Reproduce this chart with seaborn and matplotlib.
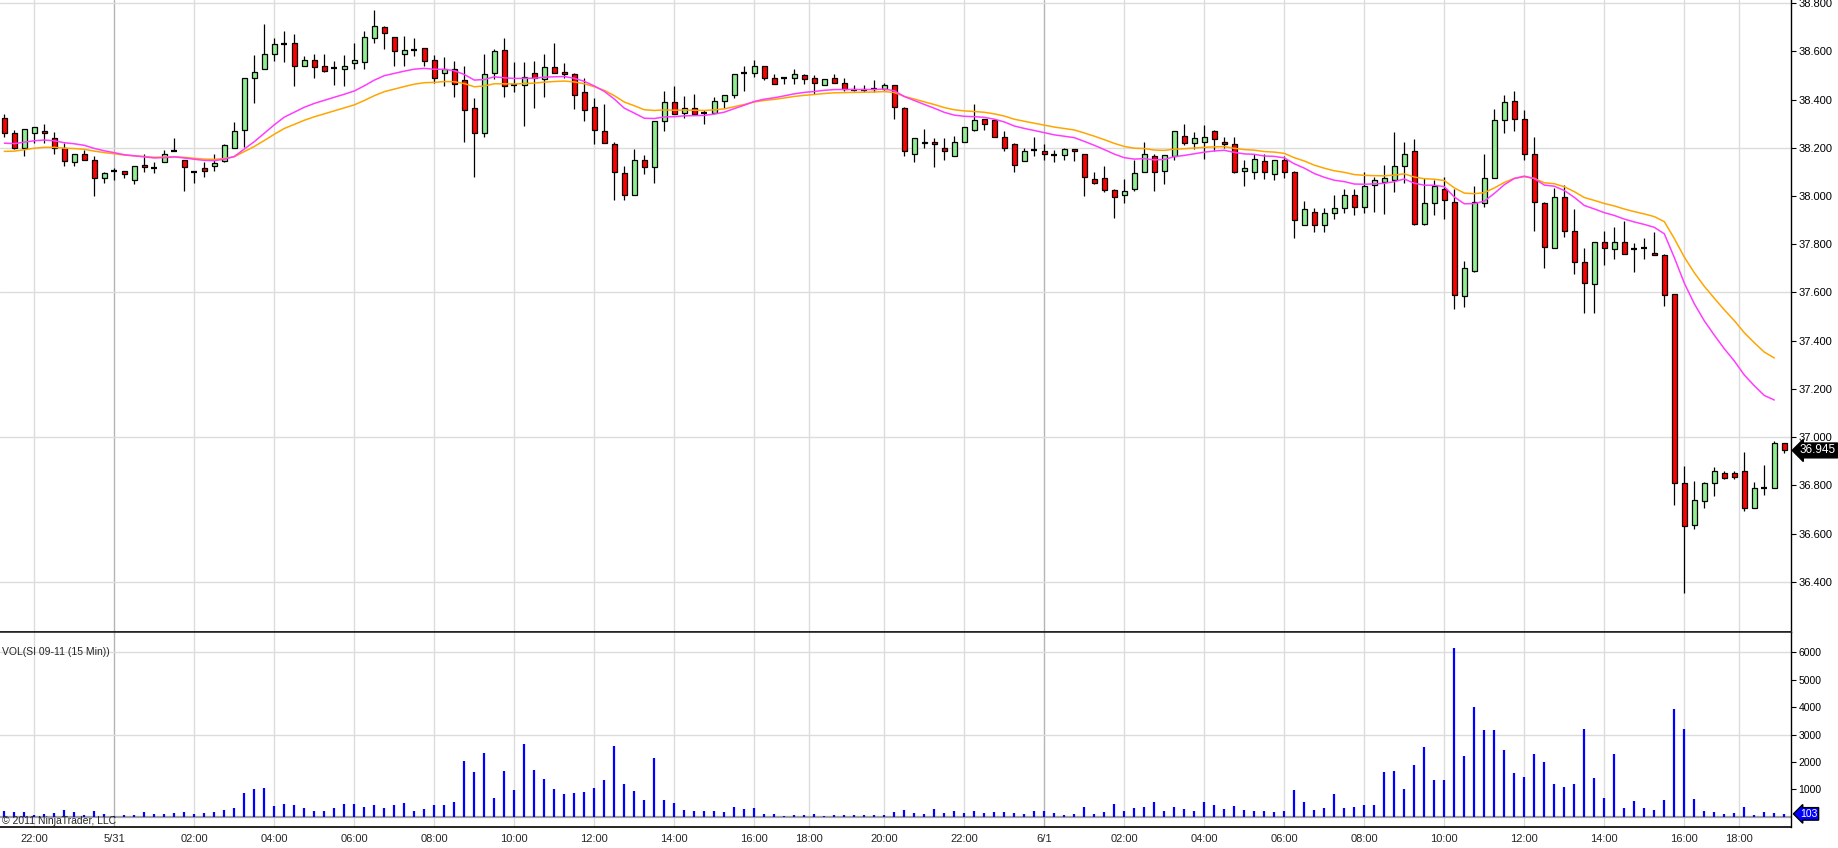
import numpy as np
import pandas as pd
import matplotlib
matplotlib.use("Agg")
import matplotlib.pyplot as plt
import matplotlib.transforms as mtransforms
import seaborn as sns

# SI 09-11, 15 min bars, 5/30 21:00 .. 6/1 18:45
opens = [38.325, 38.260, 38.200, 38.260, 38.270, 38.240, 38.200, 38.140, 38.175, 38.150,
         38.075, 38.105, 38.105, 38.065, 38.130, 38.115, 38.140, 38.185, 38.150, 38.100,
         38.115, 38.125, 38.145, 38.200, 38.275, 38.490, 38.525, 38.590, 38.630, 38.635,
         38.540, 38.565, 38.540, 38.530, 38.525, 38.550, 38.555, 38.655, 38.700, 38.660,
         38.590, 38.605, 38.615, 38.565, 38.510, 38.525, 38.480, 38.365, 38.260, 38.510,
         38.605, 38.460, 38.460, 38.510, 38.485, 38.535, 38.515, 38.505, 38.430, 38.370,
         38.270, 38.215, 38.095, 38.005, 38.150, 38.120, 38.310, 38.390, 38.345, 38.365,
         38.345, 38.345, 38.395, 38.420, 38.510, 38.510, 38.540, 38.490, 38.490, 38.490,
         38.500, 38.490, 38.460, 38.490, 38.470, 38.440, 38.440, 38.445, 38.445, 38.460,
         38.365, 38.175, 38.220, 38.225, 38.200, 38.165, 38.225, 38.275, 38.320, 38.315,
         38.245, 38.215, 38.145, 38.190, 38.185, 38.170, 38.170, 38.195, 38.175, 38.070,
         38.075, 38.025, 38.005, 38.030, 38.100, 38.165, 38.105, 38.165, 38.250, 38.220,
         38.225, 38.270, 38.225, 38.215, 38.105, 38.100, 38.145, 38.090, 38.150, 38.100,
         37.880, 37.935, 37.880, 37.930, 37.950, 38.005, 37.955, 38.045, 38.060, 38.065,
         38.125, 38.185, 37.885, 37.970, 38.030, 37.975, 37.585, 37.690, 37.970, 38.075,
         38.315, 38.395, 38.320, 38.175, 37.970, 37.785, 37.995, 37.855, 37.725, 37.635,
         37.810, 37.780, 37.810, 37.780, 37.785, 37.765, 37.755, 37.595, 36.810, 36.635,
         36.735, 36.810, 36.850, 36.850, 36.860, 36.705, 36.790, 36.790, 36.975]
highs = [38.340, 38.275, 38.280, 38.285, 38.300, 38.265, 38.220, 38.175, 38.190, 38.165,
         38.100, 38.115, 38.105, 38.125, 38.175, 38.140, 38.190, 38.240, 38.150, 38.100,
         38.140, 38.175, 38.215, 38.305, 38.490, 38.585, 38.715, 38.655, 38.685, 38.670,
         38.580, 38.590, 38.590, 38.560, 38.585, 38.635, 38.685, 38.770, 38.705, 38.660,
         38.665, 38.655, 38.615, 38.585, 38.575, 38.560, 38.540, 38.405, 38.590, 38.610,
         38.655, 38.555, 38.555, 38.560, 38.590, 38.635, 38.550, 38.510, 38.490, 38.405,
         38.380, 38.225, 38.125, 38.195, 38.170, 38.310, 38.435, 38.455, 38.415, 38.425,
         38.355, 38.410, 38.420, 38.505, 38.540, 38.565, 38.540, 38.505, 38.490, 38.525,
         38.505, 38.500, 38.485, 38.505, 38.490, 38.460, 38.460, 38.480, 38.470, 38.460,
         38.370, 38.240, 38.280, 38.240, 38.240, 38.250, 38.285, 38.380, 38.320, 38.320,
         38.270, 38.220, 38.200, 38.245, 38.215, 38.190, 38.200, 38.195, 38.175, 38.100,
         38.125, 38.030, 38.070, 38.150, 38.225, 38.175, 38.170, 38.270, 38.300, 38.265,
         38.295, 38.275, 38.245, 38.245, 38.150, 38.175, 38.175, 38.150, 38.165, 38.105,
         37.980, 37.950, 37.950, 38.005, 38.030, 38.030, 38.100, 38.080, 38.130, 38.265,
         38.225, 38.235, 38.075, 38.065, 38.080, 38.030, 37.730, 38.040, 38.175, 38.360,
         38.420, 38.435, 38.355, 38.245, 37.975, 38.035, 38.045, 37.945, 37.785, 37.810,
         37.855, 37.870, 37.895, 37.805, 37.825, 37.850, 37.760, 37.595, 36.880, 36.820,
         36.815, 36.875, 36.860, 36.860, 36.940, 36.815, 36.885, 36.985, 36.975]
lows = [38.245, 38.195, 38.165, 38.220, 38.220, 38.175, 38.125, 38.125, 38.150, 38.000,
        38.055, 38.065, 38.075, 38.050, 38.100, 38.095, 38.140, 38.185, 38.020, 38.055,
        38.080, 38.105, 38.140, 38.200, 38.205, 38.385, 38.525, 38.560, 38.555, 38.455,
        38.540, 38.490, 38.515, 38.460, 38.455, 38.525, 38.525, 38.635, 38.610, 38.540,
        38.540, 38.580, 38.540, 38.470, 38.455, 38.410, 38.225, 38.080, 38.245, 38.485,
        38.410, 38.430, 38.290, 38.365, 38.410, 38.510, 38.490, 38.360, 38.310, 38.215,
        38.220, 37.985, 37.985, 38.005, 38.090, 38.055, 38.270, 38.340, 38.325, 38.340,
        38.300, 38.345, 38.365, 38.405, 38.435, 38.495, 38.480, 38.465, 38.465, 38.465,
        38.465, 38.425, 38.460, 38.470, 38.435, 38.435, 38.430, 38.430, 38.440, 38.320,
        38.165, 38.140, 38.200, 38.120, 38.150, 38.165, 38.225, 38.270, 38.275, 38.245,
        38.185, 38.100, 38.145, 38.165, 38.150, 38.140, 38.150, 38.145, 38.000, 38.050,
        38.015, 37.910, 37.970, 38.020, 38.100, 38.020, 38.050, 38.150, 38.210, 38.195,
        38.155, 38.185, 38.200, 38.095, 38.040, 38.070, 38.070, 38.065, 38.075, 37.825,
        37.880, 37.850, 37.850, 37.905, 37.930, 37.920, 37.930, 37.935, 37.925, 38.015,
        38.055, 37.880, 37.880, 37.920, 37.905, 37.530, 37.540, 37.685, 37.955, 38.075,
        38.260, 38.270, 38.150, 37.855, 37.700, 37.785, 37.830, 37.675, 37.515, 37.515,
        37.715, 37.740, 37.760, 37.685, 37.740, 37.755, 37.545, 36.720, 36.355, 36.620,
        36.705, 36.755, 36.825, 36.825, 36.695, 36.705, 36.760, 36.790, 36.935]
closes = [38.260, 38.200, 38.280, 38.285, 38.260, 38.200, 38.145, 38.175, 38.150, 38.075,
          38.095, 38.105, 38.090, 38.125, 38.120, 38.115, 38.175, 38.185, 38.120, 38.100,
          38.105, 38.135, 38.210, 38.270, 38.490, 38.515, 38.590, 38.630, 38.630, 38.540,
          38.565, 38.535, 38.520, 38.530, 38.540, 38.565, 38.660, 38.705, 38.675, 38.600,
          38.605, 38.605, 38.560, 38.490, 38.525, 38.465, 38.355, 38.260, 38.505, 38.600,
          38.455, 38.460, 38.495, 38.490, 38.535, 38.510, 38.505, 38.420, 38.355, 38.275,
          38.220, 38.100, 38.005, 38.150, 38.120, 38.310, 38.390, 38.340, 38.365, 38.340,
          38.345, 38.395, 38.420, 38.505, 38.510, 38.540, 38.490, 38.465, 38.490, 38.505,
          38.485, 38.470, 38.485, 38.470, 38.445, 38.440, 38.440, 38.445, 38.460, 38.370,
          38.185, 38.240, 38.225, 38.215, 38.185, 38.225, 38.285, 38.315, 38.300, 38.245,
          38.200, 38.130, 38.185, 38.190, 38.175, 38.170, 38.195, 38.185, 38.080, 38.055,
          38.025, 37.995, 38.020, 38.095, 38.175, 38.100, 38.170, 38.270, 38.220, 38.240,
          38.245, 38.235, 38.215, 38.100, 38.115, 38.155, 38.100, 38.150, 38.100, 37.900,
          37.945, 37.880, 37.930, 37.950, 38.005, 37.955, 38.040, 38.065, 38.075, 38.125,
          38.175, 37.885, 37.970, 38.040, 37.985, 37.590, 37.700, 37.975, 38.075, 38.315,
          38.390, 38.320, 38.175, 37.975, 37.790, 37.995, 37.855, 37.725, 37.640, 37.810,
          37.785, 37.810, 37.760, 37.780, 37.785, 37.755, 37.590, 36.810, 36.630, 36.740,
          36.810, 36.860, 36.830, 36.835, 36.705, 36.790, 36.790, 36.975, 36.945]
volumes = [210, 170, 170, 60, 100, 135, 245, 170, 60, 210,
           100, 40, 50, 50, 170, 100, 100, 135, 170, 100,
           135, 170, 245, 315, 865, 1010, 1045, 390, 460, 425,
           315, 210, 210, 315, 460, 460, 350, 425, 315, 425,
           500, 210, 280, 425, 425, 535, 2030, 1630, 2320, 680,
           1665, 975, 2650, 1700, 1375, 1010, 830, 865, 900, 1045,
           1340, 2580, 1190, 935, 610, 2140, 610, 500, 245, 210,
           210, 210, 170, 350, 280, 315, 100, 100, 20, 60,
           60, 100, 20, 60, 60, 60, 60, 60, 60, 170,
           245, 135, 100, 280, 135, 210, 135, 210, 135, 170,
           170, 135, 100, 210, 210, 135, 60, 100, 350, 100,
           170, 460, 210, 315, 350, 535, 210, 350, 280, 210,
           535, 425, 280, 390, 245, 210, 210, 170, 210, 975,
           535, 245, 315, 830, 315, 350, 425, 425, 1630, 1665,
           1010, 1885, 2540, 1340, 1340, 6155, 2215, 4000, 3160, 3160,
           2430, 1595, 1450, 2285, 2000, 1190, 1080, 1190, 3200, 1410,
           680, 2285, 315, 570, 315, 245, 610, 3930, 3200, 645,
           210, 170, 100, 135, 350, 60, 170, 135, 103]

# time axis: bar index of each label
tick_pos = [3, 11, 19, 27, 35, 43, 51, 59, 67, 75, 80.5, 88,
            96, 104, 112, 120, 128, 136, 144, 152, 160, 168, 173.5]
tick_labels = ["22:00", "5/31", "02:00", "04:00", "06:00", "08:00", "10:00", "12:00",
               "14:00", "16:00", "18:00", "20:00", "22:00", "6/1", "02:00", "04:00",
               "06:00", "08:00", "10:00", "12:00", "14:00", "16:00", "18:00"]
date_labels = ["5/31", "6/1"]

price_ticks = [36.4, 36.6, 36.8, 37.0, 37.2, 37.4, 37.6, 37.8, 38.0, 38.2, 38.4, 38.6, 38.8]
price_grid = [36.4, 37.0, 37.6, 38.2, 38.8]
vol_ticks = [1000, 2000, 3000, 4000, 5000, 6000]
vol_grid = [3000, 6000]

# moving averages (exponential), seeded with the value shown at the left edge
fast_span, fast_seed = 20, 38.215
slow_span, slow_seed = 30, 38.180

UP = "#90EE90"
DOWN = "#FF0000"
GRID = "#DCDCDC"
DATE_GRID = "#B4B4B4"

sns.set_style("white")
plt.rcParams["font.family"] = ["Liberation Sans", "DejaVu Sans"]

df = pd.DataFrame({"open": opens, "high": highs, "low": lows,
                   "close": closes, "volume": volumes})
df["bar"] = np.arange(len(df))

ma = pd.DataFrame({"bar": df["bar"]})
ma["fast"] = pd.Series([fast_seed] + closes).ewm(span=fast_span, adjust=False).mean().iloc[1:].values
ma["slow"] = pd.Series([slow_seed] + closes).ewm(span=slow_span, adjust=False).mean().iloc[1:].values
ma = ma.iloc[:-1]  # indicator not drawn on the open bar

W, H = 1838, 848
fig = plt.figure(figsize=(W / 100, H / 100), dpi=100)
right = 1791 / W
ax = fig.add_axes([0, (H - 632) / H, right, 632 / H])
axv = fig.add_axes([0, (H - 827) / H, right, (827 - 632) / H], sharex=ax)

xmin, xmax = -0.43, 178.67
ax.set_xlim(xmin, xmax)
ax.set_ylim(36.192, 38.813)
axv.set_ylim(-376, 6741)

# grids
for a in (ax, axv):
    for p, lab in zip(tick_pos, tick_labels):
        a.axvline(p, color=DATE_GRID if lab in date_labels else GRID, lw=1, zorder=0)
for g in price_grid:
    ax.axhline(g, color=GRID, lw=1, zorder=0)
for g in vol_grid:
    axv.axhline(g, color=GRID, lw=1, zorder=0)
axv.axhline(0, color="#A0A0A0", lw=1.6, zorder=1)

# candles
ax.vlines(df["bar"], df["low"], df["high"], color="black", lw=0.9, zorder=2)
up = df[df["close"] > df["open"] + 1e-9]
dn = df[df["close"] < df["open"] - 1e-9]
flat = df[np.isclose(df["close"], df["open"])]
ax.bar(up["bar"], up["close"] - up["open"], bottom=up["open"], width=0.55,
       color=UP, edgecolor="black", linewidth=0.9, zorder=3)
ax.bar(dn["bar"], dn["open"] - dn["close"], bottom=dn["close"], width=0.55,
       color=DOWN, edgecolor="black", linewidth=0.9, zorder=3)
ax.hlines(flat["close"], flat["bar"] - 0.3, flat["bar"] + 0.3, color="black", lw=1.6, zorder=3)

sns.lineplot(data=ma, x="bar", y="slow", ax=ax, color="#FFA500", lw=1.1, zorder=4, legend=False)
sns.lineplot(data=ma, x="bar", y="fast", ax=ax, color="#FF3CFF", lw=1.1, zorder=4, legend=False)

# volume
axv.vlines(df["bar"], 0, df["volume"], color="#0000FF", lw=1.6, zorder=2)

# axes styling
for a in (ax, axv):
    a.yaxis.tick_right()
    a.set_xlabel("")
    a.set_ylabel("")
    for s in ("left", "top"):
        a.spines[s].set_visible(False)
    a.spines["right"].set_color("black")
    a.spines["right"].set_linewidth(1)
    a.spines["bottom"].set_color("black")
    a.spines["bottom"].set_linewidth(1.2)
    a.tick_params(axis="y", direction="out", length=3.5, width=0.8, pad=2,
                  labelsize=8, colors="black")
axv.spines["top"].set_visible(True)
axv.spines["top"].set_linewidth(1.2)

ax.set_yticks(price_ticks, [f"{p:.3f}" for p in price_ticks])
axv.set_yticks(vol_ticks, [str(v) for v in vol_ticks])
ax.tick_params(axis="x", bottom=False, labelbottom=False)
axv.set_xticks(tick_pos, tick_labels)
axv.tick_params(axis="x", length=0, pad=5, labelsize=8)
axv.tick_params(axis="y", labelsize=7.5)

# last value markers
tr = mtransforms.blended_transform_factory(ax.transAxes, ax.transData)
ax.text(1.0 + 9 / 1791, closes[-1], f"{closes[-1]:.3f}", transform=tr, ha="left", va="center",
        fontsize=8.5, color="white",
        bbox=dict(boxstyle="larrow,pad=0.12", fc="black", ec="black"))
trv = mtransforms.blended_transform_factory(axv.transAxes, axv.transData)
axv.text(1.0 + 9 / 1791, volumes[-1], str(volumes[-1]), transform=trv, ha="left", va="center",
         fontsize=7.5, color="white",
         bbox=dict(boxstyle="larrow,pad=0.12", fc="#0000FF", ec="black"))

# panel captions, kept fully inside the left edge
fig.text(2 / W, 1 - 652 / H, "VOL(SI 09-11 (15 Min))", ha="left", va="center", fontsize=7.5)
fig.text(2 / W, 1 - 821 / H, "\u00a9 2011 NinjaTrader, LLC", ha="left", va="center", fontsize=7.5)

fig.savefig("out.png", dpi=100)
